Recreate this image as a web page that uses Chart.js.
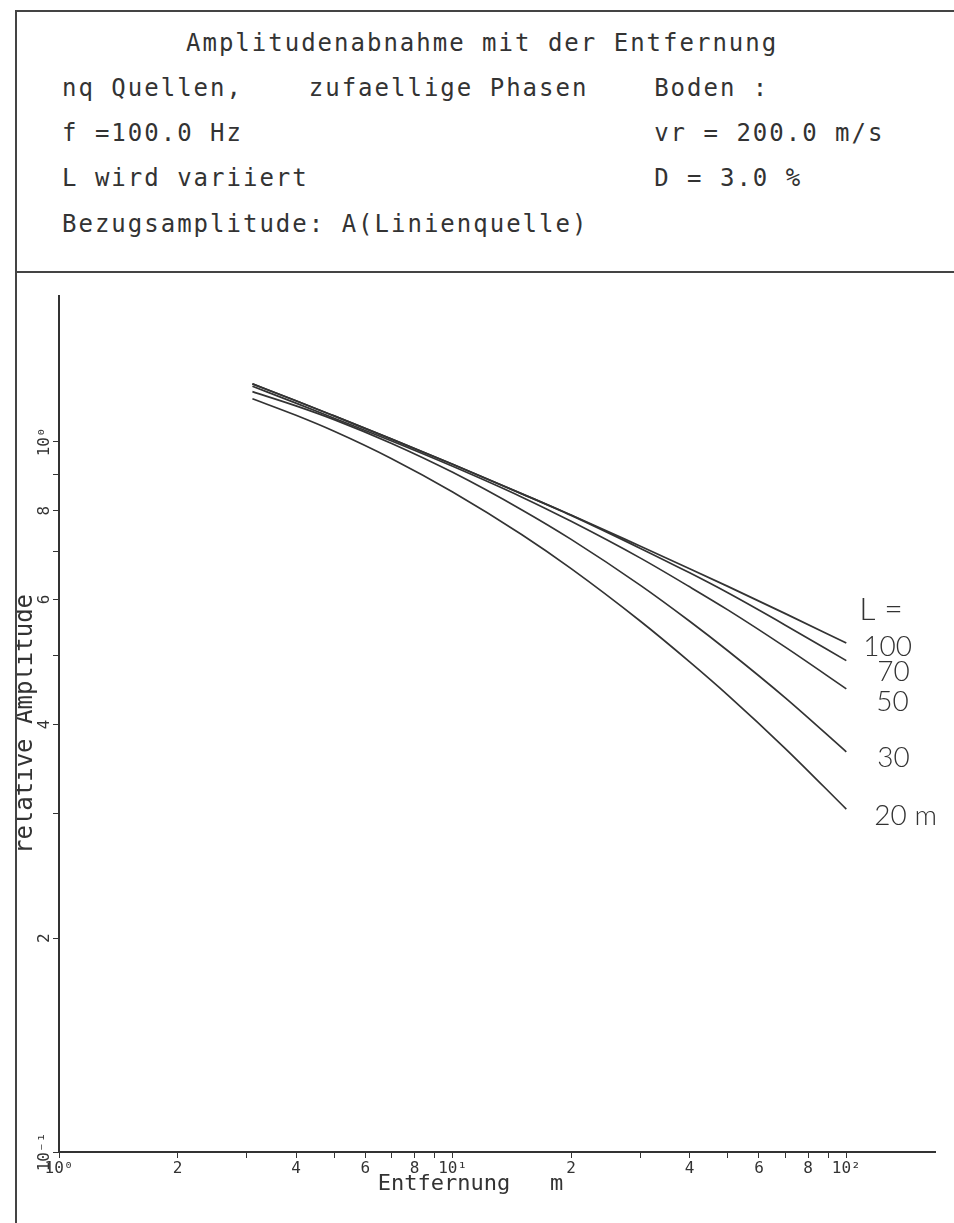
<!DOCTYPE html>
<html>
<head>
<meta charset="utf-8">
<script src="https://cdn.jsdelivr.net/npm/chart.js@4.4.1/dist/chart.umd.min.js"></script>
<style>
  html, body { margin: 0; padding: 0; background: #fff; }
  body { width: 954px; height: 1223px; position: relative; overflow: hidden;
         font-family: 'DejaVu Sans Mono', monospace; color: #333; }
  #frame { position: absolute; left: 15px; top: 10px; width: 1000px; height: 1300px;
           border-left: 2px solid #444; border-top: 2px solid #444; }
  #sep { position: absolute; left: 15px; top: 271px; width: 1000px; border-top: 2px solid #444; }
  .ln { position: absolute; white-space: pre; font-size: 24px; letter-spacing: 2px; line-height: 1; }
  #plot { position: absolute; left: 17px; top: 274px; width: 937px; height: 949px; }
</style>
</head>
<body>
<div id="frame"></div>
<div id="sep"></div>
<div class="ln" style="left:186px; top:31px">Amplitudenabnahme mit der Entfernung</div>
<div class="ln" style="left:62px; top:76px">nq Quellen,    zufaellige Phasen    Boden :</div>
<div class="ln" style="left:62px; top:121px">f =100.0 Hz                         vr = 200.0 m/s</div>
<div class="ln" style="left:62px; top:166px">L wird variiert                     D = 3.0 %</div>
<div class="ln" style="left:62px; top:212px">Bezugsamplitude: A(Linienquelle)</div>
<div id="plot"><canvas id="chart"></canvas></div>

<script>
'use strict';

// Entfernung (m)
const distances = [3.1, 4, 5, 7, 10, 15, 20, 30, 40, 50, 70, 100];

// relative Amplitude for each source length L
const ampL100 = [1.207, 1.143, 1.088, 1.009, 0.930, 0.845, 0.789, 0.713, 0.663, 0.626, 0.573, 0.521];
const ampL70  = [1.207, 1.143, 1.088, 1.009, 0.930, 0.845, 0.788, 0.708, 0.654, 0.613, 0.552, 0.492];
const ampL50  = [1.198, 1.134, 1.080, 1.003, 0.924, 0.836, 0.773, 0.686, 0.625, 0.580, 0.514, 0.449];
const ampL30  = [1.177, 1.124, 1.075, 0.995, 0.906, 0.802, 0.729, 0.628, 0.559, 0.508, 0.436, 0.366];
const ampL20  = [1.150, 1.090, 1.035, 0.947, 0.850, 0.740, 0.663, 0.559, 0.490, 0.440, 0.370, 0.304];

const curveLabels = ['100', '70', '50', '30', '20 m'];

const xTickValues = [1, 2, 3, 4, 5, 6, 7, 8, 9, 10, 20, 30, 40, 50, 60, 70, 80, 90, 100];
const xTickLabels = ['10⁰', '2', '', '4', '', '6', '', '8', '', '10¹', '2', '', '4', '', '6', '', '8', '', '10²'];

const yTickValues = [0.1, 0.2, 0.3, 0.4, 0.5, 0.6, 0.7, 0.8, 0.9, 1];
const yTickLabels = ['10⁻¹', '2', '', '4', '', '6', '', '8', '', '10⁰'];

const INK = '#333';
const PLOT_FONT = "'DejaVu Sans Mono', monospace";
const HAND_FONT = "300 28px Lato, 'Open Sans', sans-serif";

// pixel offsets of the hand-written labels from each curve end
const LABEL_SHIFT = [[17, 4], [31, 11], [30, 13], [31, 6], [28, 7]];

const toPoints = ys => distances.map((x, i) => ({ x, y: ys[i] }));

const curve = (label, ys) => ({
    label,
    data: toPoints(ys),
    borderColor: INK,
    borderWidth: 1.7,
    pointRadius: 0,
    fill: false,
    cubicInterpolationMode: 'monotone',
});

// hand-written "L =" and length labels at the right end of the curves
const curveLabelPlugin = {
    id: 'curveLabels',
    afterDatasetsDraw(chart) {
        const { ctx, scales: { x, y } } = chart;
        ctx.save();
        ctx.fillStyle = INK;
        ctx.textBaseline = 'middle';
        ctx.textAlign = 'left';
        chart.data.datasets.forEach((ds, i) => {
            const last = ds.data[ds.data.length - 1];
            const ex = x.getPixelForValue(last.x);
            const ey = y.getPixelForValue(last.y);
            ctx.font = HAND_FONT;
            ctx.fillText(curveLabels[i], ex + LABEL_SHIFT[i][0], ey + LABEL_SHIFT[i][1]);
            if (i === 0) {
                ctx.font = "300 32px Lato, 'Open Sans', sans-serif";
                ctx.fillText('L =', ex + 13, ey - 33);
            }
        });
        ctx.restore();
    }
};

new Chart(document.getElementById('chart'), {
    type: 'line',
    data: {
        datasets: [
            curve('L = 100 m', ampL100),
            curve('L = 70 m', ampL70),
            curve('L = 50 m', ampL50),
            curve('L = 30 m', ampL30),
            curve('L = 20 m', ampL20),
        ]
    },
    options: {
        responsive: true,
        maintainAspectRatio: false,
        animation: false,
        layout: { padding: { top: 22, right: 19, left: 0, bottom: 0 } },
        plugins: {
            legend: { display: false },
            tooltip: { enabled: false },
        },
        scales: {
            x: {
                type: 'logarithmic',
                min: 1,
                max: 168,
                afterBuildTicks: scale => { scale.ticks = xTickValues.map(value => ({ value })); },
                afterFit: scale => { scale.height = 71; },
                grid: { display: true, drawOnChartArea: false, tickLength: 6, color: INK, lineWidth: 1 },
                border: { display: true, color: INK, width: 2 },
                ticks: {
                    autoSkip: false,
                    maxRotation: 0,
                    minRotation: 0,
                    padding: 1,
                    color: INK,
                    font: { family: PLOT_FONT, size: 16 },
                    callback: (value, index) => xTickLabels[index],
                },
                title: {
                    display: true,
                    text: 'Entfernung   m\u00a0\u00a0\u00a0\u00a0',
                    color: INK,
                    font: { family: PLOT_FONT, size: 22, lineHeight: 1 },
                    padding: { top: 0, bottom: 28 },
                },
            },
            y: {
                type: 'logarithmic',
                min: 0.1,
                max: 1.605,
                afterBuildTicks: scale => { scale.ticks = yTickValues.map(value => ({ value })); },
                afterFit: scale => { scale.width = 42; },
                grid: { display: true, drawOnChartArea: false, tickLength: 6, color: INK, lineWidth: 1 },
                border: { display: true, color: INK, width: 2 },
                ticks: {
                    autoSkip: false,
                    minRotation: 90,
                    maxRotation: 90,
                    crossAlign: 'center',
                    padding: -11,
                    color: INK,
                    font: { family: PLOT_FONT, size: 16 },
                    callback: (value, index) => yTickLabels[index],
                },
                title: {
                    display: true,
                    text: 'relative Amplitude',
                    color: INK,
                    font: { family: PLOT_FONT, size: 24, lineHeight: 0.75 },
                    padding: 0,
                },
            }
        }
    },
    plugins: [curveLabelPlugin],
});
</script>
</body>
</html>
